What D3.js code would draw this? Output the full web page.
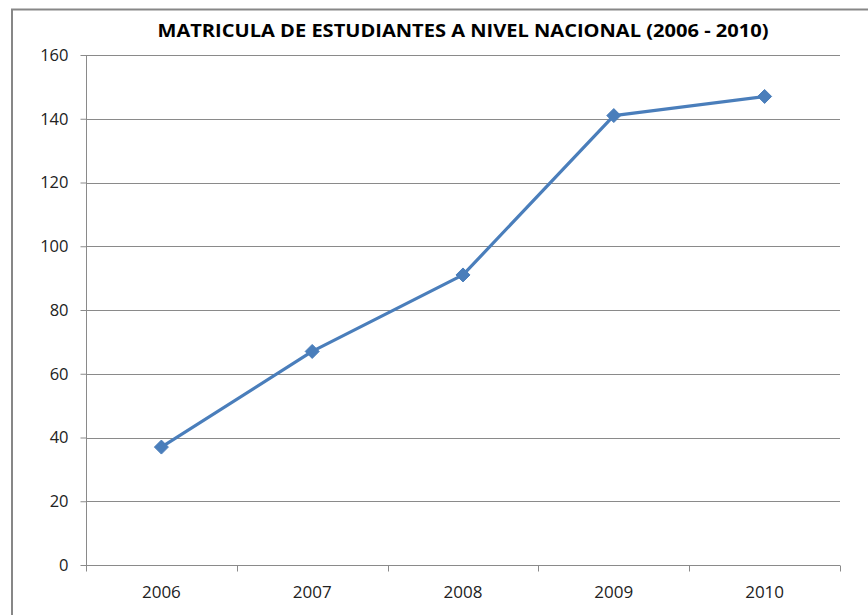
<!DOCTYPE html>
<html><head><meta charset="utf-8">
<script src="https://cdn.jsdelivr.net/npm/d3@7"></script>
<style>body{margin:0;background:#fff}svg{display:block}</style>
</head><body><svg id="c" width="868" height="615"></svg>
<script>
const years = ["2006","2007","2008","2009","2010"];
const matricula = [37, 67, 91, 141, 147];
const yTicks = [0,20,40,60,80,100,120,140,160];
const titleText = "MATRICULA DE ESTUDIANTES A NIVEL NACIONAL (2006 - 2010)";

const svg = d3.select("#c");
const font = "'Open Sans', 'Noto Sans', sans-serif";
const L=86, R=840, T=55, B=565;

svg.append("rect").attr("x",12).attr("y",9.5).attr("width",870).attr("height",620)
  .attr("fill","#fff").attr("stroke","#878787").attr("stroke-width",2);

const x = d3.scaleBand().domain(years).range([L,R]);
const y = d3.scaleLinear().domain([0,160]).range([B,T]);

// gridlines
svg.append("g").selectAll("line").data(yTicks.filter(d=>d>0)).join("line")
  .attr("x1",L).attr("x2",R).attr("y1",d=>Math.round(y(d))+0.5).attr("y2",d=>Math.round(y(d))+0.5)
  .attr("stroke","#8a8a8a").attr("stroke-width",1);

// y axis
const ya = svg.append("g").attr("transform",`translate(${L+0.5},0)`)
  .call(d3.axisLeft(y).tickValues(yTicks).tickSize(6).tickPadding(12));
ya.select(".domain").attr("stroke","#8a8a8a").attr("d",`M0,${T}V${B}`);
ya.selectAll(".tick line").attr("stroke","#8a8a8a");
ya.selectAll(".tick text").attr("font-family",font).attr("font-size",16.5).attr("fill","#222");

// x axis
const xa = svg.append("g").attr("transform",`translate(0,${B+0.5})`)
  .call(d3.axisBottom(x).tickSize(0).tickPadding(20));
xa.select(".domain").attr("stroke","#8a8a8a").attr("d",`M${L},0H${R}`);
xa.selectAll(".tick text").attr("font-family",font).attr("font-size",17).attr("fill","#222");
xa.append("g").selectAll("line").data(years.map(d=>x(d)).concat([R])).join("line")
  .attr("x1",d=>Math.round(d)+0.5).attr("x2",d=>Math.round(d)+0.5).attr("y1",0).attr("y2",6)
  .attr("stroke","#8a8a8a");

// line
const cx = d=>x(d)+x.bandwidth()/2;
svg.append("path").datum(matricula)
  .attr("d", d3.line().x((d,i)=>cx(years[i])).y(d=>y(d)))
  .attr("fill","none").attr("stroke","#4a7ebb").attr("stroke-width",3.2).attr("stroke-linejoin","round");

svg.append("g").selectAll("path").data(matricula).join("path")
  .attr("transform",(d,i)=>`translate(${cx(years[i])},${y(d)})`)
  .attr("d","M0,-7L7,0L0,7L-7,0Z").attr("fill","#4a7ebb").attr("stroke","#4a7ebb").attr("stroke-width",1);

// title
svg.append("text").attr("x",463).attr("y",37).attr("text-anchor","middle")
  .attr("font-family",font).attr("font-weight","bold").attr("font-size",18)
  .attr("textLength",611).attr("lengthAdjust","spacingAndGlyphs")
  .attr("fill","#000").text(titleText);
</script></body></html>
